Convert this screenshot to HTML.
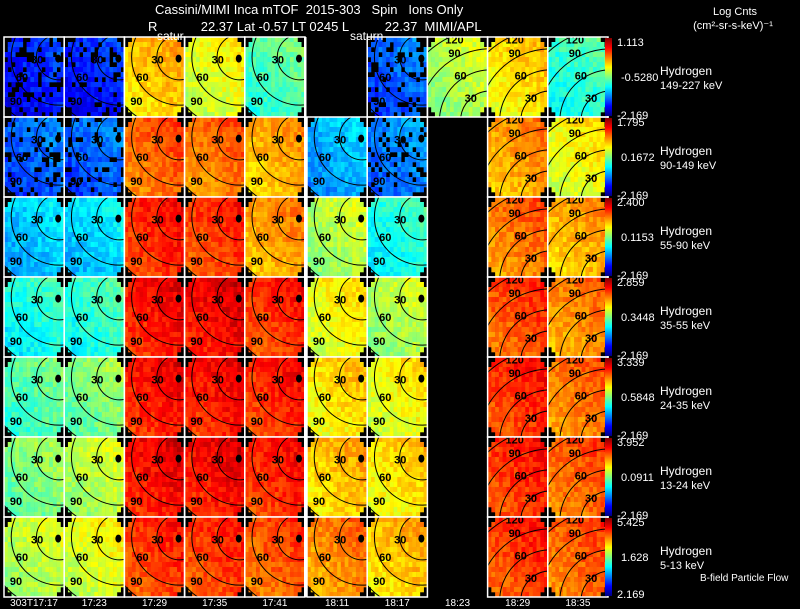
<!DOCTYPE html>
<html><head><meta charset="utf-8"><style>
html,body{margin:0;padding:0;background:#000;width:800px;height:609px;overflow:hidden}
svg{display:block;font-family:"Liberation Sans",sans-serif}
</style></head><body>
<svg id="chart" width="800" height="609" viewBox="0 0 800 609">
<rect width="800" height="609" fill="#000"/>
<g id="panels"></g>
<g id="bars"></g>
<g id="labels" fill="#fff" font-size="12"></g>
<text x="155" y="14" fill="#fff" font-size="13" xml:space="preserve">Cassini/MIMI Inca mTOF  2015-303   Spin   Ions Only</text>
<text x="148" y="31" fill="#fff" font-size="13" xml:space="preserve">R            22.37 Lat -0.57 LT 0245 L          22.37  MIMI/APL</text>
<text x="735" y="15" fill="#fff" font-size="11" text-anchor="middle">Log Cnts</text>
<text x="733" y="29" fill="#fff" font-size="11" text-anchor="middle">(cm²-sr-s-keV)⁻¹</text>
<text x="700" y="581" fill="#fff" font-size="10">B-field Particle Flow</text>
<text x="157" y="40" fill="#fff" font-size="12">satur</text>
<text x="350" y="40" fill="#fff" font-size="12">saturn</text>
</svg>
<script>
const times=["303T17:17","17:23","17:29","17:35","17:41","18:11","18:17","18:23","18:29","18:35"];
const energies=["149-227 keV","90-149 keV","55-90 keV","35-55 keV","24-35 keV","13-24 keV","5-13 keV"];
const topVals=["1.113","1.795","2.400","2.859","3.339","3.952","5.425"];
const midVals=["-0.5280","0.1672","0.1153","0.3448","0.5848","0.0911","1.628"];
const botVals=["-2.169","-2.169","-2.169","-2.169","-2.169","-2.169","2.169"];
// panel mean levels (0=blue..1=red), -1 = no data
const row0=[0.15,0.15,0.68,0.60,0.45,-1,0.22,0.55,0.65,0.42];
const row1=[0.22,0.22,0.78,0.76,0.70,0.30,0.25,-1,0.72,0.62];
const row2=[0.32,0.34,0.84,0.82,0.72,0.55,0.40,-1,0.76,0.70];
const row3=[0.40,0.42,0.86,0.88,0.83,0.62,0.55,-1,0.80,0.74];
const row4=[0.46,0.50,0.86,0.86,0.84,0.65,0.62,-1,0.83,0.76];
const row5=[0.50,0.56,0.87,0.87,0.84,0.68,0.65,-1,0.83,0.78];
const row6=[0.56,0.60,0.82,0.82,0.79,0.74,0.68,-1,0.82,0.78];
const levels=[row0,row1,row2,row3,row4,row5,row6];

const NS="http://www.w3.org/2000/svg";
const X0=4,CW=60.2,Y0=37,RH=80,N=16;
function colX(c){return X0+c*CW+(c>=5?2:0);}
function rowY(r){return Y0+r*RH;}
function jet(v){v=Math.max(0,Math.min(1,v));
 const r=Math.max(0,Math.min(1,1.5-Math.abs(4*v-3)));
 const g=Math.max(0,Math.min(1,1.5-Math.abs(4*v-2)));
 const b=Math.max(0,Math.min(1,1.5-Math.abs(4*v-1)));
 return `rgb(${Math.round(r*255)},${Math.round(g*255)},${Math.round(b*255)})`;}
function hash(a,b,c){let h=(a*374761393+b*668265263+c*2147483647)>>>0;h=(h^(h>>>13))*1274126177>>>0;return ((h^(h>>>16))>>>0)/4294967295;}
function mk(tag,attrs,parent){const e=document.createElementNS(NS,tag);for(const k in attrs)e.setAttribute(k,attrs[k]);parent.appendChild(e);return e;}

const P=document.getElementById('panels');
const defs=mk('defs',{},document.getElementById('chart'));
for(let r=0;r<7;r++){for(let c=0;c<10;c++){
 const x=colX(c),y=rowY(r),w=CW,h=RH,lv=levels[r][c];
 const g=mk('g',{},P);
 
 
 if(lv<0)continue;
 const cw=w/N,ch=h/N;
 for(let i=0;i<N;i++)for(let j=0;j<N;j++){
  const dx=i-7.5,dy=j-7.5;
  if(Math.sqrt(dx*dx+dy*dy)>9.6)continue;
  let v=lv+(hash(i,j,r*10+c)-0.5)*0.09;
  v+= (i-j)/N*0.06;
  if(lv<0.3&&hash(j,i,r+c*7)<0.2){continue;}
  const cell=mk('rect',{x:(x+i*cw).toFixed(2),y:(y+j*ch).toFixed(2),width:(cw+0.3).toFixed(2),height:(ch+0.3).toFixed(2),fill:jet(v)},g);
  
  
 }
 const cid='clip'+r+'_'+c;
 const cp=mk('clipPath',{id:cid},defs);mk('rect',{x:x,y:y,width:w,height:h},cp);
 const cg=mk('g',{'clip-path':`url(#${cid})`,fill:'none',stroke:'#000','stroke-width':1},g);
 const ft={fill:'#000','font-size':11,'font-weight':'bold',stroke:'none','text-anchor':'middle'};
 if(c<7){
  const cx=x+w*0.92,cy=y+h*0.25;
  [w*0.38,w*0.8,w*1.22].forEach(rad=>mk('circle',{cx:cx,cy:cy,r:rad},cg));
  [['30',0.55,0.28],['60',0.3,0.5],['90',0.2,0.8]].forEach(([l,fx,fy])=>{
   const t=mk('text',Object.assign({x:x+w*fx,y:y+h*fy+4},ft),cg);t.textContent=l;});
  mk('ellipse',{cx:x+w*0.9,cy:y+h*0.27,rx:3,ry:4,fill:'#000',stroke:'none'},cg);
 } else {
  [w*0.5,w*0.85,w*1.2,w*1.55].forEach(rad=>mk('circle',{cx:x+w*1.05,cy:y+h*1.05,r:rad},cg));
  [['90',0.45,0.2],['60',0.55,0.48],['30',0.72,0.76],['120',0.45,0.03]].forEach(([l,fx,fy])=>{
   const t=mk('text',Object.assign({x:x+w*fx,y:y+h*fy+4},ft),cg);t.textContent=l;});
 }
 const b=mk('rect',{x:x,y:y,width:w,height:h,fill:'none',stroke:'#fff','stroke-width':1.5},g);
 
 
}}
const sep=mk('rect',{x:colX(5)-3,y:Y0,width:2.5,height:RH*7,fill:'#fff'},P);



const B=document.getElementById('bars');
const gr=mk('linearGradient',{id:'jetg',x1:0,y1:1,x2:0,y2:0},defs);
for(let k=0;k<=8;k++)mk('stop',{offset:k/8,'stop-color':jet(k/8)},gr);
const L=document.getElementById('labels');
for(let r=0;r<7;r++){
 const y=rowY(r);
 const cb=mk('rect',{x:605,y:y+1,width:7,height:RH-2,fill:'url(#jetg)'},B);
 
 
 const t1=mk('text',{x:617,y:y+9,'font-size':11},L);t1.textContent=topVals[r];
 
 const t2=mk('text',{x:621,y:y+44,'font-size':11},L);t2.textContent=midVals[r];
 
 const t3=mk('text',{x:617,y:Math.min(y+82,598),'font-size':11},L);t3.textContent=botVals[r];
 
 const h1=mk('text',{x:660,y:y+38,'font-size':12},L);h1.textContent='Hydrogen';
 
 const h2=mk('text',{x:660,y:y+52,'font-size':11},L);h2.textContent=energies[r];
 
}
for(let c=0;c<10;c++){
 const t=mk('text',{x:colX(c)+CW/2,y:606,'text-anchor':'middle','font-size':10},L);
 t.textContent=times[c];
 
 
}
</script>
</body></html>
